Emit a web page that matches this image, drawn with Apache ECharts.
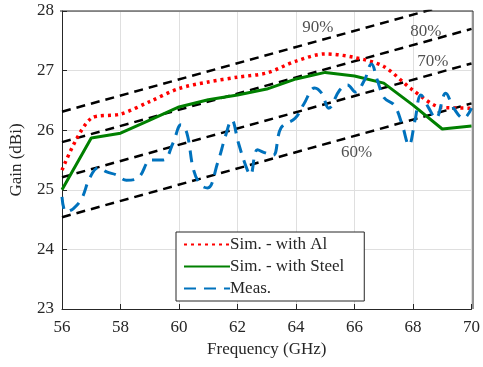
<!DOCTYPE html>
<html>
<head>
<meta charset="utf-8">
<script src="https://cdn.jsdelivr.net/npm/echarts@6/dist/echarts.min.js"></script>
<style>
    html, body { margin: 0; padding: 0; background: #fff; }
    #chart { width: 483px; height: 367px; }
</style>
</head>
<body>
<div id="chart"></div>
<script>
    // simulated gain, 1 GHz steps
    const simFreq = [56, 57, 58, 59, 60, 61, 62, 63, 64, 65, 66, 67, 68, 69, 70];
    const simAl = [25.33, 26.20, 26.27, 26.48, 26.70, 26.81, 26.89, 26.96, 27.16, 27.28, 27.22, 27.07, 26.67, 26.38, 26.37];
    const simSteel = [25.00, 25.87, 25.95, 26.17, 26.39, 26.51, 26.59, 26.69, 26.86, 26.97, 26.91, 26.79, 26.42, 26.02, 26.07];

    const measFreq = [56.0, 56.14, 56.4, 56.68, 56.95, 57.25, 57.53, 57.86, 58.2, 58.6, 59.05, 59.46, 59.8, 60.07, 60.27, 60.5, 60.75, 60.98,
        61.32, 61.6, 61.8, 62.03, 62.27, 62.44, 62.68, 62.95, 63.22, 63.49, 63.97, 64.27, 64.64, 64.88, 65.12, 65.49, 65.76, 66.03,
        66.34, 66.58, 66.78, 67.02, 67.36, 67.63, 67.86, 68.07, 68.27, 68.54, 68.78, 69.12, 69.39, 69.73, 70.0];
    const meas = [24.88, 24.63, 24.69, 24.86, 25.20, 25.37, 25.30, 25.25, 25.16, 25.20, 25.50, 25.50, 25.79, 26.09, 25.95, 25.33, 25.08, 25.03,
        25.45, 25.92, 26.17, 25.79, 25.42, 25.25, 25.67, 25.62, 25.58, 26.04, 26.20, 26.44, 26.71, 26.62, 26.37, 26.67, 26.76, 26.64,
        26.84, 27.11, 26.84, 26.54, 26.42, 26.09, 25.75, 26.17, 26.59, 26.37, 26.20, 26.62, 26.37, 26.20, 26.37];

    // aperture efficiency reference lines
    const effFreq = [56, 70];
    const eff90 = [26.31, 28.21];
    const eff80 = [25.80, 27.70];
    const eff70 = [25.21, 27.12];
    const eff60 = [24.54, 26.45];
    const effNames = ['90%', '80%', '70%', '60%'];
    const effLabelFreq = [64.75, 68.44, 68.68, 66.07];
    const effLabelGain = [27.73, 27.65, 27.16, 25.62];

    const xTicks = [56, 58, 60, 62, 64, 66, 68, 70];
    const yTicks = [23, 24, 25, 26, 27, 28];

    const font = 'Liberation Serif';
    const ink = '#262626';

    const zip = (xs, ys) => xs.map((x, i) => [x, ys[i]]);

    function effSeries(vals) {
        return {
            type: 'line',
            data: zip(effFreq, vals),
            symbol: 'none',
            silent: true,
            z: 3,
            lineStyle: { color: '#000', width: 2.5, type: [9, 6] }
        };
    }

    let chart = echarts.init(document.getElementById('chart'));

    let option = {
        animation: false,
        backgroundColor: '#fff',
        textStyle: { fontFamily: font },
        grid: { left: 60, right: 10, top: 11, bottom: 58 },
        xAxis: {
            type: 'value',
            min: xTicks[0],
            max: xTicks[xTicks.length - 1],
            interval: 2,
            name: 'Frequency (GHz)',
            nameLocation: 'middle',
            nameGap: 28,
            nameTextStyle: { fontFamily: font, fontSize: 17, color: ink },
            axisLine: { lineStyle: { color: ink, width: 1 } },
            axisTick: { inside: true, length: 5, lineStyle: { color: ink } },
            axisLabel: { fontFamily: font, fontSize: 17, color: ink, margin: 10 },
            splitLine: { show: true, lineStyle: { color: '#dfdfdf', width: 1 } }
        },
        yAxis: {
            type: 'value',
            min: yTicks[0],
            max: yTicks[yTicks.length - 1],
            interval: 1,
            name: 'Gain (dBi)',
            nameLocation: 'middle',
            nameGap: 37,
            nameTextStyle: { fontFamily: font, fontSize: 17, color: ink },
            axisLine: { show: true, lineStyle: { color: ink, width: 1 } },
            axisTick: { show: true, inside: true, length: 5, lineStyle: { color: ink } },
            axisLabel: { fontFamily: font, fontSize: 17, color: ink, margin: 8 },
            splitLine: { show: true, lineStyle: { color: '#dfdfdf', width: 1 } }
        },
        legend: {
            data: ['Sim. - with Al', 'Sim. - with Steel', 'Meas.'],
            orient: 'vertical',
            left: 176,
            top: 232,
            itemWidth: 46,
            itemHeight: 12,
            itemGap: 5,
            padding: [4, 20, 4, 7],
            backgroundColor: '#fff',
            borderColor: ink,
            borderWidth: 1,
            borderRadius: 0,
            itemStyle: { opacity: 0 },
            textStyle: { fontFamily: font, fontSize: 17, color: ink, padding: [0, 0, 0, -5] }
        },
        graphic: [{
            // top and right frame lines of the box
            type: 'polyline',
            shape: { points: [[60, 11], [473, 11], [473, 309]] },
            style: { stroke: ink, lineWidth: 1, fill: null },
            z: 10
        }],
        series: [
            effSeries(eff90),
            effSeries(eff80),
            effSeries(eff70),
            effSeries(eff60),
            {
                type: 'scatter',
                data: effNames.map((n, i) => [effLabelFreq[i], effLabelGain[i], n]),
                symbolSize: 0,
                silent: true,
                z: 4,
                label: {
                    show: true,
                    position: 'inside',
                    formatter: (p) => p.data[2],
                    fontFamily: font,
                    fontSize: 17,
                    color: ink
                }
            },
            {
                name: 'Sim. - with Al',
                type: 'line',
                data: zip(simFreq, simAl),
                symbol: 'none',
                smooth: 0.3,
                z: 5,
                lineStyle: { color: '#ff0000', width: 3.5, type: [3, 4] },
                itemStyle: { color: '#ff0000' }
            },
            {
                name: 'Sim. - with Steel',
                type: 'line',
                data: zip(simFreq, simSteel),
                symbol: 'none',
                z: 5,
                lineStyle: { color: '#008000', width: 3 },
                itemStyle: { color: '#008000' }
            },
            {
                name: 'Meas.',
                type: 'line',
                data: zip(measFreq, meas),
                symbol: 'none',
                smooth: 0.4,
                z: 5,
                lineStyle: { color: '#0072bd', width: 3, type: [12, 8] },
                itemStyle: { color: '#0072bd' }
            }
        ]
    };

    chart.setOption(option);
</script>
</body>
</html>
